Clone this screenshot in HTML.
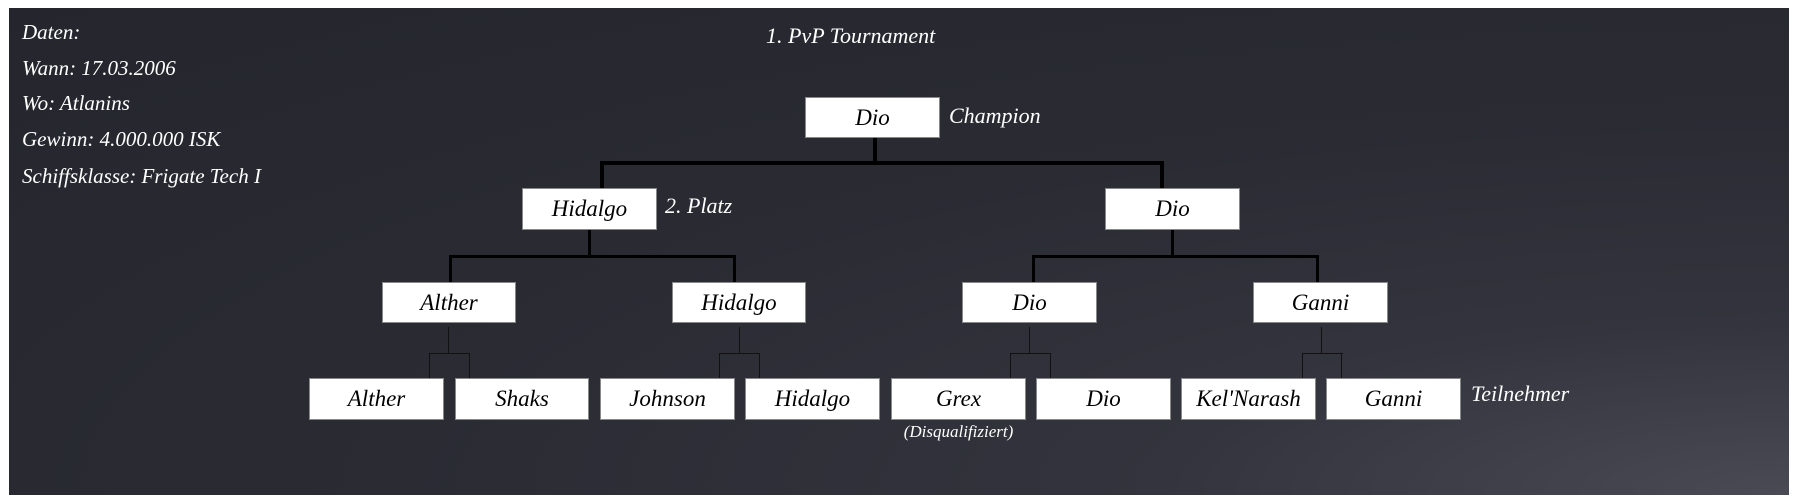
<!DOCTYPE html>
<html><head><meta charset="utf-8"><style>
html,body{margin:0;padding:0;background:#fff;}
#c{position:relative;width:1800px;height:504px;overflow:hidden;background:#fff;font-family:"Liberation Serif",serif;font-style:italic;}
#p{position:absolute;left:9px;top:8px;width:1780px;height:487px;background:radial-gradient(ellipse at 100% 100%,#4a4a54 0%,#33343d 25%,#2a2b33 55%,#25262d 100%);}
.b{position:absolute;background:#fff;border:1px solid #888;box-sizing:border-box;color:#000;font-size:23px;display:flex;align-items:center;justify-content:center;}
.t{position:absolute;color:#fff;font-size:21px;white-space:nowrap;}
.k{position:absolute;background:#000;}
.n{position:absolute;background:#111;}
</style></head><body><div id="c"><div id="p"></div>
<div class="t" style="left:22px;top:20px">Daten:</div>
<div class="t" style="left:22px;top:56px">Wann: 17.03.2006</div>
<div class="t" style="left:22px;top:91px">Wo: Atlanins</div>
<div class="t" style="left:22px;top:127px">Gewinn: 4.000.000 ISK</div>
<div class="t" style="left:22px;top:164px">Schiffsklasse: Frigate Tech I</div>
<div class="t" style="left:766px;top:23px;font-size:22px">1. PvP Tournament</div>
<div class="t" style="left:949px;top:103px;font-size:22px">Champion</div>
<div class="t" style="left:665px;top:193px;font-size:22px">2. Platz</div>
<div class="t" style="left:1471px;top:381px;font-size:22px">Teilnehmer</div>
<div class="t" style="left:891px;top:422px;width:135px;text-align:center;font-size:17px">(Disqualifiziert)</div>

<div class="k" style="left:873px;top:138px;width:4px;height:26px"></div>
<div class="k" style="left:600px;top:161px;width:564px;height:4px"></div>
<div class="k" style="left:600px;top:161px;width:4px;height:27px"></div>
<div class="k" style="left:1160px;top:161px;width:4px;height:27px"></div>

<div class="k" style="left:588px;top:230px;width:3px;height:27px"></div>
<div class="k" style="left:449px;top:255px;width:287px;height:3px"></div>
<div class="k" style="left:449px;top:255px;width:3px;height:27px"></div>
<div class="k" style="left:733px;top:255px;width:3px;height:27px"></div>
<div class="k" style="left:1171px;top:230px;width:3px;height:27px"></div>
<div class="k" style="left:1032px;top:255px;width:287px;height:3px"></div>
<div class="k" style="left:1032px;top:255px;width:3px;height:27px"></div>
<div class="k" style="left:1316px;top:255px;width:3px;height:27px"></div>

<div class="n" style="left:448px;top:327px;width:1px;height:26px"></div>
<div class="n" style="left:429px;top:353px;width:41px;height:1px"></div>
<div class="n" style="left:429px;top:353px;width:1px;height:26px"></div>
<div class="n" style="left:469px;top:353px;width:1px;height:26px"></div>
<div class="n" style="left:739px;top:327px;width:1px;height:26px"></div>
<div class="n" style="left:719px;top:353px;width:41px;height:1px"></div>
<div class="n" style="left:719px;top:353px;width:1px;height:26px"></div>
<div class="n" style="left:759px;top:353px;width:1px;height:26px"></div>
<div class="n" style="left:1029px;top:327px;width:1px;height:26px"></div>
<div class="n" style="left:1010px;top:353px;width:41px;height:1px"></div>
<div class="n" style="left:1010px;top:353px;width:1px;height:26px"></div>
<div class="n" style="left:1050px;top:353px;width:1px;height:26px"></div>
<div class="n" style="left:1321px;top:327px;width:1px;height:26px"></div>
<div class="n" style="left:1302px;top:353px;width:41px;height:1px"></div>
<div class="n" style="left:1302px;top:353px;width:1px;height:26px"></div>
<div class="n" style="left:1341px;top:353px;width:1px;height:26px"></div>

<div class="b" style="left:805px;top:97px;width:135px;height:41px">Dio</div>
<div class="b" style="left:522px;top:188px;width:135px;height:42px">Hidalgo</div>
<div class="b" style="left:1105px;top:188px;width:135px;height:42px">Dio</div>
<div class="b" style="left:382px;top:282px;width:134px;height:41px">Alther</div>
<div class="b" style="left:672px;top:282px;width:134px;height:41px">Hidalgo</div>
<div class="b" style="left:962px;top:282px;width:135px;height:41px">Dio</div>
<div class="b" style="left:1253px;top:282px;width:135px;height:41px">Ganni</div>
<div class="b" style="left:309px;top:378px;width:135px;height:42px">Alther</div>
<div class="b" style="left:455px;top:378px;width:134px;height:42px">Shaks</div>
<div class="b" style="left:600px;top:378px;width:135px;height:42px">Johnson</div>
<div class="b" style="left:745px;top:378px;width:135px;height:42px">Hidalgo</div>
<div class="b" style="left:891px;top:378px;width:135px;height:42px">Grex</div>
<div class="b" style="left:1036px;top:378px;width:135px;height:42px">Dio</div>
<div class="b" style="left:1181px;top:378px;width:135px;height:42px">Kel'Narash</div>
<div class="b" style="left:1326px;top:378px;width:135px;height:42px">Ganni</div>
</div></body></html>
